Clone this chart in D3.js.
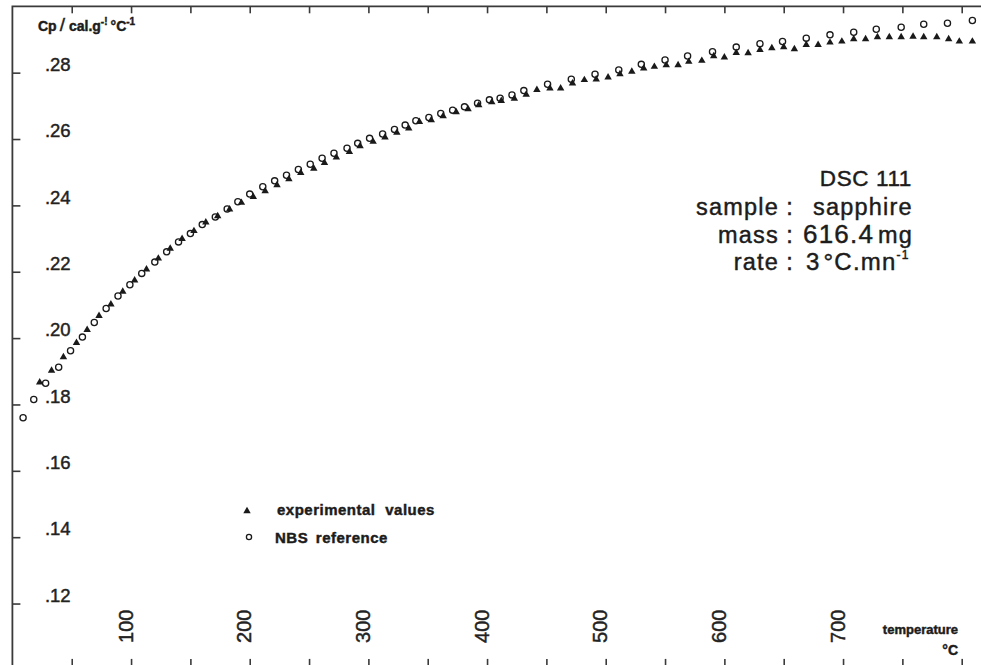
<!DOCTYPE html>
<html lang="en">
<head>
<meta charset="UTF-8">
<title>DSC 111 sapphire Cp</title>
<script src="https://d3js.org/d3.v7.min.js"></script>
<style>
  body { margin: 0; background: #fff; }
  svg { display: block; font-family: "Liberation Sans", Arial, sans-serif; }
  .frame { stroke: #3a3a3a; stroke-width: 1.8; fill: none; }
  .axis path { display: none; }
  .axis line { stroke: #3a3a3a; stroke-width: 1.6; }
  .axis text { fill: #222; stroke: #222; stroke-width: 0.45; font-family: "Liberation Sans", Arial, sans-serif; }
  .lbl { fill: #1c1c1c; stroke: #1c1c1c; stroke-width: 0.45; }
</style>
</head>
<body>
<script>
// NBS reference (open circles)
const nbsT = [9, 18, 28, 39, 49, 59, 69, 79, 89, 99,
  109, 120, 130, 140, 150, 160, 171, 181, 190, 200,
  211, 221, 231, 241, 251, 261, 271, 282, 291, 301,
  312, 322, 331, 340, 351, 361, 371, 381, 392, 402,
  411, 421, 431, 451, 471, 491, 511, 530, 550, 569,
  590, 610, 630, 649, 669, 689, 709, 728, 749, 768,
  788, 809];
const nbsCp = [.1760, .1815, .1864, .1912, .1962, .2003, .2047, .2089, .2127, .2161,
  .2195, .2229, .2260, .2290, .2315, .2342, .2365, .2389, .2411, .2434,
  .2456, .2474, .2491, .2508, .2524, .2542, .2557, .2572, .2587, .2602,
  .2615, .2629, .2642, .2655, .2665, .2677, .2687, .2697, .2708, .2718,
  .2723, .2733, .2746, .2765, .2780, .2795, .2808, .2825, .2838, .2850,
  .2863, .2877, .2887, .2894, .2904, .2914, .2922, .2931, .2937, .2946,
  .2949, .2957];

// experimental values (filled triangles)
const expT = [23, 33, 43, 54, 63, 73, 83,
  93, 103, 113, 123, 133, 143, 153, 163, 173, 183, 193, 203,
  213, 223, 233, 243, 254, 263, 273, 284, 293, 304,
  314, 324, 334, 343, 353, 363, 374, 384, 393, 404,
  412, 423, 433, 442, 453, 462, 472, 482, 492, 502,
  512, 522, 532, 541, 551, 561, 570, 581, 591, 600,
  610, 620, 630, 640, 650, 659, 669, 679, 689, 699,
  709, 719, 729, 739, 749, 759, 768, 779, 789, 798,
  809];
const expCp = [.1867, .1902, .1943, .1986, .2025, .2067, .2102,
  .2140, .2174, .2207, .2240, .2270, .2299, .2323, .2349, .2368, .2388, .2408, .2426,
  .2443, .2461, .2479, .2498, .2511, .2528, .2545, .2561, .2579, .2592,
  .2605, .2619, .2632, .2652, .2657, .2669, .2681, .2690, .2702, .2711,
  .2715, .2722, .2734, .2748, .2753, .2753, .2768, .2778, .2780, .2786,
  .2796, .2803, .2813, .2818, .2823, .2823, .2833, .2836, .2850, .2846,
  .2860, .2859, .2869, .2874, .2877, .2871, .2884, .2884, .2891, .2894,
  .2901, .2901, .2907, .2907, .2907, .2909, .2907, .2907, .2901, .2894,
  .2894];

const xTicks = [50, 100, 150, 200, 250, 300, 350, 400, 450, 500, 550, 600, 650, 700, 750, 800];
const xTickLabels = [100, 200, 300, 400, 500, 600, 700];
const yTicks = [.12, .14, .16, .18, .20, .22, .24, .26, .28];

const width = 981, height = 665;

const x = d3.scaleLinear().domain([0, 800]).range([12.4, 961.7]);
const y = d3.scaleLinear().domain([0.10, 0.30]).range([669.9, 6.3]);

const svg = d3.select("body").append("svg")
  .attr("width", width)
  .attr("height", height);

// frame (right and bottom sides fall outside the picture)
svg.append("path")
  .attr("class", "frame")
  .attr("d", `M${x(0)},${y(0.10)}V${y(0.30)}H${x(820)}`);

svg.append("g")
  .attr("class", "axis")
  .attr("transform", `translate(0,${y(0.30)})`)
  .call(d3.axisTop(x).tickValues(xTicks).tickSize(-7).tickFormat(""));

const xb = svg.append("g")
  .attr("class", "axis")
  .attr("transform", `translate(0,${y(0.10)})`)
  .call(d3.axisBottom(x).tickValues(xTicks).tickSize(-11)
    .tickFormat(d => xTickLabels.includes(d) ? d : ""));
xb.selectAll("text")
  .attr("x", 0).attr("y", 0).attr("dy", null)
  .attr("text-anchor", "start")
  .attr("transform", "translate(1,-27) rotate(-90)")
  .style("font-size", "20px");

const yl = svg.append("g")
  .attr("class", "axis")
  .attr("transform", `translate(${x(0)},0)`)
  .call(d3.axisLeft(y).tickValues(yTicks).tickSize(-8)
    .tickFormat(d => d3.format(".2f")(d).replace(/^0/, "")));
yl.selectAll("text")
  .attr("x", 32.5).attr("dy", "-0.12em")
  .attr("text-anchor", "start")
  .style("font-size", "18.5px");

// points
const exp = expT.map((t, i) => ({ t, cp: expCp[i] }));
const nbs = nbsT.map((t, i) => ({ t, cp: nbsCp[i] }));

const tri = d3.symbol().type(d3.symbolTriangle).size(24);

svg.append("g").selectAll("path")
  .data(exp)
  .join("path")
  .attr("d", tri)
  .attr("transform", d => `translate(${x(d.t)},${y(d.cp)})`)
  .attr("fill", "#1a1a1a");

svg.append("g").selectAll("circle")
  .data(nbs)
  .join("circle")
  .attr("cx", d => x(d.t))
  .attr("cy", d => y(d.cp))
  .attr("r", 3.1)
  .attr("fill", "none")
  .attr("stroke", "#1a1a1a")
  .attr("stroke-width", 1.3);

// y axis title
const yt = svg.append("text")
  .attr("class", "lbl")
  .attr("x", 38).attr("y", 31)
  .style("font-size", "14px").style("font-weight", "bold")
  .attr("stroke-width", 0);
yt.append("tspan").text("Cp");
yt.append("tspan").attr("dx", 3).style("font-size", "19px").style("font-weight", "normal").text("/");
yt.append("tspan").attr("dx", 4).text("cal.g");
yt.append("tspan").attr("dy", -6).style("font-size", "10px").text("-!");
yt.append("tspan").attr("dy", 6).attr("dx", 3).text("°C");
yt.append("tspan").attr("dy", -6).style("font-size", "10px").text("-1");

// x axis title
svg.append("text")
  .attr("class", "lbl")
  .attr("x", 958).attr("y", 634)
  .attr("text-anchor", "end")
  .attr("stroke-width", 0)
  .style("font-size", "13px").style("font-weight", "bold")
  .text("temperature");
svg.append("text")
  .attr("class", "lbl")
  .attr("x", 958).attr("y", 655)
  .attr("text-anchor", "end")
  .attr("stroke-width", 0)
  .style("font-size", "14px").style("font-weight", "bold")
  .text("°C");

// legend
const legend = svg.append("g");
legend.append("path")
  .attr("d", tri)
  .attr("transform", "translate(247,511)")
  .attr("fill", "#1a1a1a");
legend.append("circle")
  .attr("cx", 249).attr("cy", 537).attr("r", 2.6)
  .attr("fill", "none").attr("stroke", "#1a1a1a").attr("stroke-width", 1.3);
legend.append("text")
  .attr("class", "lbl").attr("stroke-width", 0)
  .attr("x", 277).attr("y", 515)
  .style("font-size", "15px").style("font-weight", "bold")
  .style("letter-spacing", "0.5px").style("word-spacing", "5px")
  .text("experimental values");
legend.append("text")
  .attr("class", "lbl").attr("stroke-width", 0)
  .attr("x", 275).attr("y", 543)
  .style("font-size", "15px").style("font-weight", "bold")
  .style("letter-spacing", "0.5px").style("word-spacing", "3px")
  .text("NBS reference");

// annotation block
const note = svg.append("g").style("letter-spacing", "1.2px");
note.append("text").attr("class", "lbl")
  .attr("x", 912).attr("y", 186).attr("text-anchor", "end")
  .style("font-size", "22.5px").style("letter-spacing", "0.6px")
  .text("DSC 111");

const rows = [
  { label: "sample", y: 215, parts: [{ t: "sapphire", s: 23.5 }], x0: 813 },
  { label: "mass", y: 243, parts: [{ t: "616.4", s: 26 }, { t: "mg", s: 23.5, dx: 4 }], x0: 803 },
  { label: "rate", y: 270, parts: [{ t: "3", s: 24 }, { t: "°C.mn", s: 24, dx: 3 }, { t: "-1", s: 12, dy: -11 }], x0: 806 }
];
rows.forEach(r => {
  note.append("text").attr("class", "lbl")
    .attr("x", 779).attr("y", r.y).attr("text-anchor", "end")
    .style("font-size", "23.5px").text(r.label);
  note.append("text").attr("class", "lbl")
    .attr("x", 790).attr("y", r.y).attr("text-anchor", "middle")
    .style("font-size", "23.5px").text(":");
  const v = note.append("text").attr("class", "lbl")
    .attr("x", r.x0).attr("y", r.y);
  r.parts.forEach(p => {
    v.append("tspan").style("font-size", p.s + "px")
      .attr("dx", p.dx || null)
      .attr("dy", p.dy || null).text(p.t);
  });
});
</script>
</body>
</html>
